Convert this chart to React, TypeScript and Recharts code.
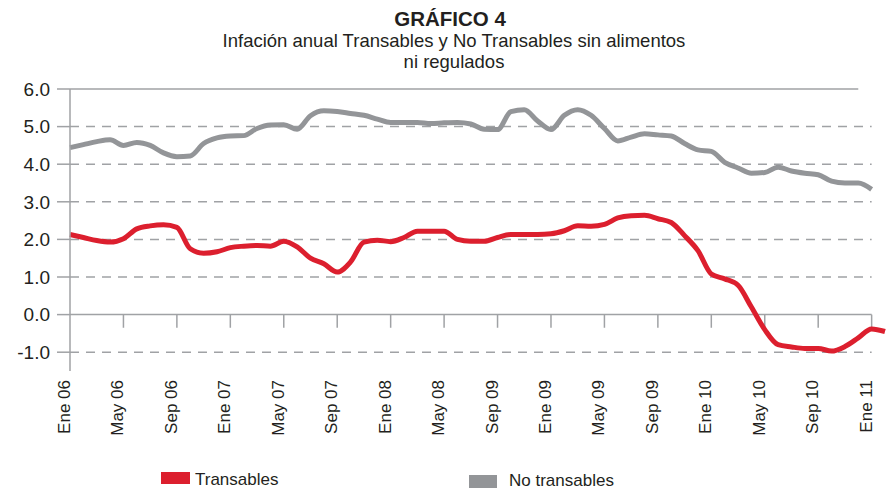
import React from 'react';
import { LineChart, Line, XAxis, YAxis, ReferenceLine } from 'recharts';

const months = [
  '2006-01','2006-02','2006-03','2006-04','2006-05','2006-06','2006-07','2006-08','2006-09','2006-10','2006-11','2006-12',
  '2007-01','2007-02','2007-03','2007-04','2007-05','2007-06','2007-07','2007-08','2007-09','2007-10','2007-11','2007-12',
  '2008-01','2008-02','2008-03','2008-04','2008-05','2008-06','2008-07','2008-08','2008-09','2008-10','2008-11','2008-12',
  '2009-01','2009-02','2009-03','2009-04','2009-05','2009-06','2009-07','2009-08','2009-09','2009-10','2009-11','2009-12',
  '2010-01','2010-02','2010-03','2010-04','2010-05','2010-06','2010-07','2010-08','2010-09','2010-10','2010-11','2010-12',
  '2011-01','2011-02',
];

const transables = [
  2.13, 2.05, 1.97, 1.93, 2.02, 2.28, 2.36, 2.39, 2.32, 1.75, 1.63, 1.67,
  1.78, 1.82, 1.84, 1.82, 1.95, 1.8, 1.5, 1.35, 1.13, 1.4, 1.93, 1.98,
  1.94, 2.05, 2.22, 2.22, 2.22, 2.0, 1.95, 1.95, 2.05, 2.13, 2.13, 2.13,
  2.15, 2.23, 2.36, 2.35, 2.4, 2.57, 2.63, 2.64, 2.55, 2.45, 2.1, 1.7,
  1.08, 0.95, 0.78, 0.2, -0.4, -0.8, -0.86, -0.9, -0.9, -0.97, -0.85, -0.62,
  -0.38, -0.45,
];

const noTransables = [
  4.44, 4.52, 4.6, 4.65, 4.5, 4.58, 4.5, 4.3, 4.2, 4.22, 4.55, 4.7,
  4.75, 4.76, 4.95, 5.04, 5.05, 4.93, 5.29, 5.42, 5.4, 5.35, 5.3, 5.2,
  5.11, 5.11, 5.11, 5.08, 5.1, 5.11, 5.07, 4.93, 4.92, 5.4, 5.45, 5.15,
  4.92, 5.3, 5.45, 5.3, 4.95, 4.62, 4.72, 4.81, 4.78, 4.75, 4.55, 4.38,
  4.34, 4.05, 3.9, 3.76, 3.78, 3.92, 3.82, 3.76, 3.72, 3.55, 3.5, 3.5,
  3.33, null,
];

const tickLabels = [
  'Ene 06', 'May 06', 'Sep 06', 'Ene 07', 'May 07', 'Sep 07', 'Ene 08', 'May 08',
  'Sep 09', 'Ene 09', 'May 09', 'Sep 09', 'Ene 10', 'May 10', 'Sep 10', 'Ene 11',
];

const yTicks = [-1, 0, 1, 2, 3, 4, 5, 6];
const gridValues = [-1, 1, 2, 3, 4, 5];

const data = months.map((m, i) => ({ m, t: transables[i], n: noTransables[i] }));
const tickMonths = tickLabels.map((_, k) => months[k * 4]);
const labelByMonth: Record<string, string> = {};
tickMonths.forEach((m, k) => { labelByMonth[m] = tickLabels[k]; });

const FONT = '"Liberation Sans", Arial, Helvetica, sans-serif';
const TEXT = '#231f20';
const RED = '#dc1f2e';
const GRAY = '#939598';
const AXIS = '#a0a2a5';
const firstM = months[0];
const lastTickM = months[60];

const XTick = (props: any) => {
  const { x, y, payload } = props;
  const label = labelByMonth[payload.value];
  if (!label) return null;
  return (
    <text x={x} y={y} transform={`rotate(-90, ${x}, ${y})`} textAnchor="end" fontSize={17} fill={TEXT} fontFamily={FONT}>
      {label}
    </text>
  );
};

export default function App() {
  return (
    <div style={{ position: 'absolute', left: 0, top: 0, width: 887, height: 490, background: '#fff', fontFamily: FONT }}>
      <svg width={887} height={80} style={{ position: 'absolute', left: 0, top: 0 }}>
        <text x={450} y={25.5} textAnchor="middle" fontSize={20.5} fontWeight="bold" fill={TEXT} fontFamily={FONT}>GRÁFICO 4</text>
        <text x={454} y={47} textAnchor="middle" fontSize={18.5} fill={TEXT} fontFamily={FONT}>Infación anual Transables y No Transables sin alimentos</text>
        <text x={454} y={68} textAnchor="middle" fontSize={18.5} fill={TEXT} fontFamily={FONT}>ni regulados</text>
      </svg>
      <div style={{ position: 'absolute', left: 0, top: 0 }}>
        <LineChart width={887} height={490} data={data} margin={{ top: 89, right: 2, bottom: 19, left: 8 }}>
          <XAxis
            dataKey="m"
            type="category"
            interval={3}
            axisLine={false}
            tickLine={false}
            tickSize={0}
            tickMargin={9}
            height={100}
            tick={<XTick />}
          />
          <YAxis
            type="number"
            domain={[-1.5, 6]}
            ticks={yTicks}
            width={62}
            axisLine={{ stroke: AXIS, strokeWidth: 1.5 }}
            tickLine={{ stroke: AXIS, strokeWidth: 1.5 }}
            tickSize={13}
            tickMargin={7}
            tickFormatter={(v: number) => v.toFixed(1)}
            tick={{ fontSize: 19, fill: TEXT, fontFamily: FONT }}
          />
          {gridValues.map((v) => (
            <ReferenceLine
              key={`g${v}`}
              segment={[{ x: firstM, y: v }, { x: lastTickM, y: v }]}
              stroke={AXIS}
              strokeWidth={1.5}
              strokeDasharray="9 7"
            />
          ))}
          <ReferenceLine segment={[{ x: firstM, y: 6 }, { x: months[59], y: 6 }]} stroke={AXIS} strokeWidth={1.5} />
          <ReferenceLine segment={[{ x: firstM, y: 0 }, { x: lastTickM, y: 0 }]} stroke={AXIS} strokeWidth={1.5} />
          {tickMonths.slice(1).map((m) => (
            <ReferenceLine key={`t${m}`} segment={[{ x: m, y: 0 }, { x: m, y: -0.35 }]} stroke={AXIS} strokeWidth={1.5} />
          ))}
          <Line type="monotone" dataKey="n" stroke={GRAY} strokeWidth={5} dot={false} activeDot={false} isAnimationActive={false} connectNulls={false} />
          <Line type="monotone" dataKey="t" stroke={RED} strokeWidth={5} dot={false} activeDot={false} isAnimationActive={false} />
        </LineChart>
      </div>
      <svg width={887} height={30} style={{ position: 'absolute', left: 0, top: 460 }}>
        <rect x={161} y={12} width={29} height={12} fill={RED} />
        <text x={195} y={25} fontSize={17} fill={TEXT} fontFamily={FONT}>Transables</text>
        <rect x={469} y={15} width={28} height={13} fill={GRAY} />
        <text x={509} y={26} fontSize={17} fill={TEXT} fontFamily={FONT}>No transables</text>
      </svg>
    </div>
  );
}
